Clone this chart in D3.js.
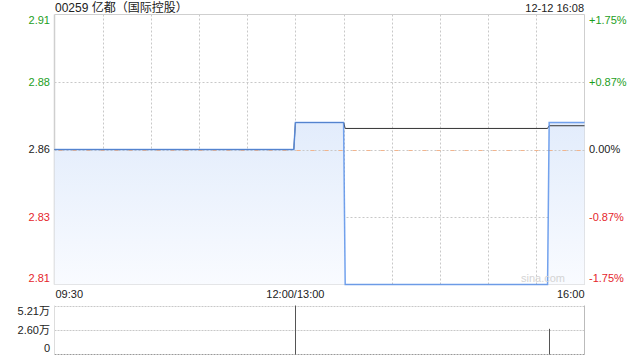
<!DOCTYPE html>
<html>
<head>
<meta charset="utf-8">
<script src="https://cdn.jsdelivr.net/npm/d3@7"></script>
<style>
  body { margin: 0; background: #fff; }
  svg { display: block; font-family: "Liberation Sans", Arial, "Noto Sans CJK SC", sans-serif; }
</style>
</head>
<body>
<div id="chart"></div>
<script>
// --- Data ---
const title = "00259 亿都（国际控股）";
const stamp = "12-12 16:08";
const prevClose = 2.86;

const priceTimes = ["09:30", "11:59", "12:00", "13:30", "13:31", "15:37", "15:38", "16:00"];
const priceValues = [2.86, 2.86, 2.87, 2.87, 2.81, 2.81, 2.87, 2.87];
const avgValues = [2.86, 2.86, 2.87, 2.87, 2.8678, 2.8678, 2.8688, 2.8688];

const volTimes = ["12:00", "15:38"];
const volValues = [52100, 27300];

const priceTicks = [2.91, 2.885, 2.86, 2.835, 2.81];
const priceTickLabels = ["2.91", "2.88", "2.86", "2.83", "2.81"];
const pctTickLabels = ["+1.75%", "+0.87%", "0.00%", "-0.87%", "-1.75%"];
const volTicks = [52100, 26050, 0];
const volTickLabels = ["5.21万", "2.60万", "0"];
const timeLabels = ["09:30", "12:00/13:00", "16:00"];

// trading minute index: morning 09:30-12:00, afternoon 13:00-16:00
function minuteIndex(t) {
  const [h, m] = t.split(":").map(Number);
  const mins = h * 60 + m;
  return mins <= 720 ? mins - 570 : 150 + (mins - 780);
}

// --- Layout ---
const W = 640, H = 360;
const plot = {left: 54.5, right: 584.5, top: 14.5, bottom: 284.5};
const vol = {top: 305.5, bottom: 354.5};
const green = "#1c9e1c", red = "#e5262b", grid = "#c8c8c8";

const svg = d3.select("#chart").append("svg")
  .attr("width", W).attr("height", H);

const x = d3.scaleLinear().domain([0, 330]).range([plot.left, plot.right]);
const y = d3.scaleLinear().domain([2.81, 2.91]).range([plot.bottom, plot.top]);
const yv = d3.scaleLinear().domain([0, 52100]).range([vol.bottom, vol.top]);

// gradient for the area under the price line
const defs = svg.append("defs");
const grad = defs.append("linearGradient").attr("id", "fillGrad")
  .attr("gradientUnits", "userSpaceOnUse")
  .attr("x1", 0).attr("x2", 0).attr("y1", plot.top).attr("y2", plot.bottom);
grad.append("stop").attr("offset", 0).attr("stop-color", "#d3e2f9");
grad.append("stop").attr("offset", 1).attr("stop-color", "#f9fbff");

// --- Grid ---
const vTicks = d3.range(30, 330, 30);
svg.append("g").selectAll("line").data(vTicks).join("line")
  .attr("x1", d => Math.round(x(d)) + 0.5).attr("x2", d => Math.round(x(d)) + 0.5)
  .attr("y1", plot.top).attr("y2", plot.bottom)
  .attr("stroke", grid).attr("stroke-dasharray", "2,2");

svg.append("g").selectAll("line").data([priceTicks[1], priceTicks[3]]).join("line")
  .attr("x1", plot.left).attr("x2", plot.right)
  .attr("y1", d => Math.round(y(d)) + 0.5).attr("y2", d => Math.round(y(d)) + 0.5)
  .attr("stroke", grid).attr("stroke-dasharray", "2,2");

// --- Frame ---
const frame = svg.append("g").attr("stroke", "#cfcfcf").attr("fill", "none");
frame.append("line").attr("x1", plot.left).attr("x2", plot.right).attr("y1", plot.top).attr("y2", plot.top);
frame.append("line").attr("x1", plot.left).attr("x2", plot.right).attr("y1", plot.bottom).attr("y2", plot.bottom);
frame.append("line").attr("x1", plot.left).attr("x2", plot.left).attr("y1", plot.top).attr("y2", plot.bottom).attr("stroke-width", 1.5);
frame.append("line").attr("x1", plot.right).attr("x2", plot.right).attr("y1", plot.top).attr("y2", plot.bottom);

// --- Price area + lines ---
const pts = priceTimes.map((t, i) => ({m: minuteIndex(t), p: priceValues[i], a: avgValues[i]}));

svg.append("path").datum(pts)
  .attr("fill", "url(#fillGrad)")
  .attr("d", d3.area().x(d => x(d.m)).y0(plot.bottom).y1(d => y(d.p)));

// prev-close reference line (gray dots with orange dashes)
const yMid = Math.round(y(prevClose)) + 0.5;
svg.append("line").attr("x1", plot.left).attr("x2", plot.right)
  .attr("y1", yMid).attr("y2", yMid)
  .attr("stroke", grid).attr("stroke-dasharray", "2,2");
svg.append("line").attr("x1", plot.left + 4).attr("x2", plot.right)
  .attr("y1", yMid).attr("y2", yMid)
  .attr("stroke", "#f3b48c").attr("stroke-dasharray", "4,10");

// average line under the price line
svg.append("path").datum(pts)
  .attr("fill", "none").attr("stroke", "#333").attr("stroke-width", 1)
  .attr("d", d3.line().x(d => x(d.m)).y(d => y(d.a)));

svg.append("path").datum(pts)
  .attr("fill", "none").attr("stroke", "#5b92ea").attr("stroke-width", 1.5)
  .attr("stroke-opacity", 0.85)
  .attr("d", d3.line().x(d => x(d.m)).y(d => y(d.p)));

// watermark
svg.append("text").attr("x", 565).attr("y", 282).attr("text-anchor", "end")
  .attr("font-size", 11).attr("fill", "#d4d4d4").text("sina.com");

// --- Price axis labels ---
function labelDy(i, n) { return i === 0 ? 6 : (i === n - 1 ? -6 : 0); }
const colorFor = v => v > prevClose ? green : (v < prevClose ? red : "#222");

svg.append("g").selectAll("text").data(priceTicks).join("text")
  .attr("x", 50).attr("y", (d, i) => y(d) + labelDy(i, priceTicks.length))
  .attr("dy", "0.35em").attr("text-anchor", "end").attr("font-size", 11)
  .attr("fill", colorFor).text((d, i) => priceTickLabels[i]);

svg.append("g").selectAll("text").data(priceTicks).join("text")
  .attr("x", 589).attr("y", (d, i) => y(d) + labelDy(i, priceTicks.length))
  .attr("dy", "0.35em").attr("text-anchor", "start").attr("font-size", 11)
  .attr("fill", colorFor).text((d, i) => pctTickLabels[i]);

// title and timestamp
svg.append("text").attr("x", 55).attr("y", 12).attr("font-size", 12).attr("fill", "#222").text(title);
svg.append("text").attr("x", 584).attr("y", 12).attr("text-anchor", "end").attr("font-size", 11).attr("fill", "#222").text(stamp);

// time axis labels
const timePos = [0, 150, 330];
const timeAnchor = ["start", "middle", "end"];
svg.append("g").selectAll("text").data(timeLabels).join("text")
  .attr("x", (d, i) => i === 0 ? x(timePos[i]) + 1 : x(timePos[i]))
  .attr("y", 298).attr("text-anchor", (d, i) => timeAnchor[i])
  .attr("font-size", 11).attr("fill", "#222").text(d => d);

// --- Volume panel ---
svg.append("g").selectAll("line").data(volTicks.slice(0, 2)).join("line")
  .attr("x1", plot.left).attr("x2", plot.right)
  .attr("y1", d => Math.round(yv(d)) + 0.5).attr("y2", d => Math.round(yv(d)) + 0.5)
  .attr("stroke", grid).attr("stroke-dasharray", "2,1");
svg.append("line").attr("x1", plot.left).attr("x2", plot.right)
  .attr("y1", vol.bottom).attr("y2", vol.bottom)
  .attr("stroke", "#999").attr("stroke-dasharray", "2,1");
svg.append("line").attr("x1", plot.left).attr("x2", plot.left)
  .attr("y1", vol.top).attr("y2", vol.bottom).attr("stroke", "#ddd");
svg.append("line").attr("x1", plot.right).attr("x2", plot.right)
  .attr("y1", vol.top).attr("y2", vol.bottom).attr("stroke", "#bbb");

svg.append("g").selectAll("line").data(volTimes).join("line")
  .attr("x1", d => Math.round(x(minuteIndex(d))) + 0.5)
  .attr("x2", d => Math.round(x(minuteIndex(d))) + 0.5)
  .attr("y1", vol.bottom)
  .attr("y2", (d, i) => yv(volValues[i]))
  .attr("stroke", "#555");

svg.append("g").selectAll("text").data(volTicks).join("text")
  .attr("x", 50).attr("y", (d, i) => yv(d) + labelDy(i, volTicks.length))
  .attr("dy", "0.35em").attr("text-anchor", "end").attr("font-size", 11)
  .attr("fill", "#222").text((d, i) => volTickLabels[i]);
</script>
</body>
</html>
